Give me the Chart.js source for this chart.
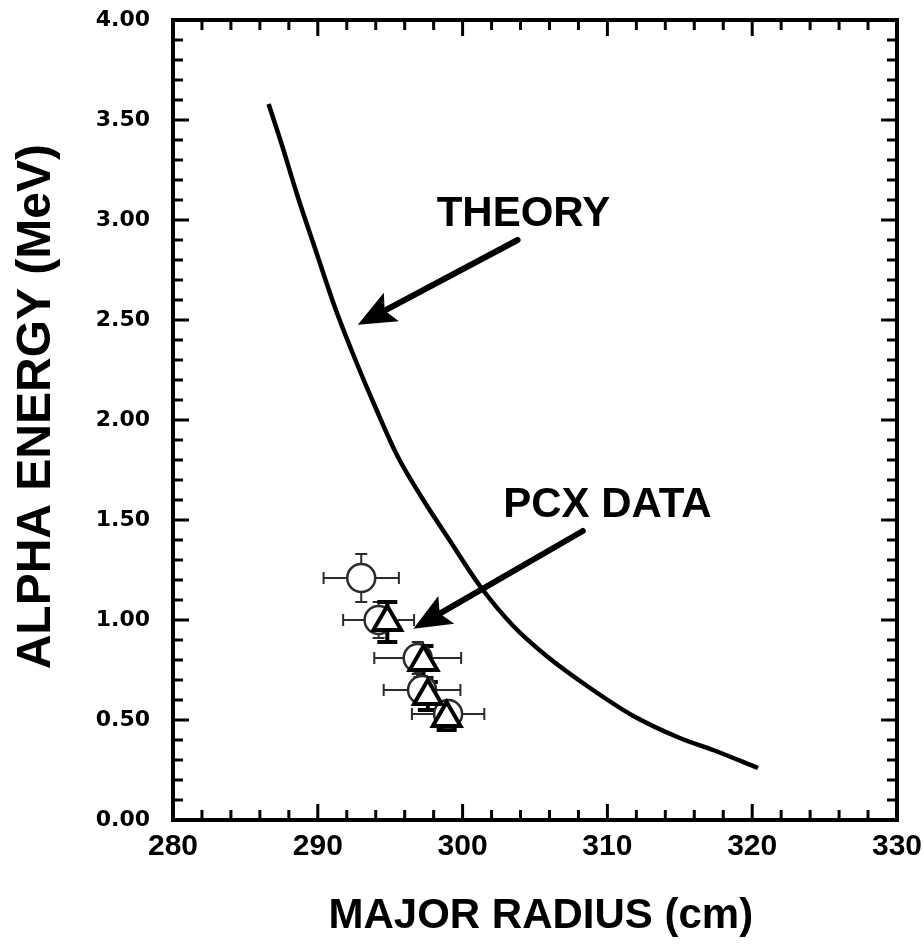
<!DOCTYPE html>
<html>
<head>
<meta charset="utf-8">
<script src="https://cdn.jsdelivr.net/npm/chart.js@4.4.1/dist/chart.umd.min.js"></script>
<style>
  html, body { margin: 0; padding: 0; background: #fff; }
</style>
</head>
<body>
<canvas id="chart" width="924" height="952"></canvas>
<script>
// Curva teórica (radio mayor, energía alfa)
const theoryX = [286.6, 287.5, 288.6, 289.8, 291.2, 292.6, 294.0, 295.5, 297.2, 299.0, 301.2, 303.5, 305.8, 308.6, 311.8, 315.0, 317.3, 320.4];
const theoryY = [3.58, 3.38, 3.12, 2.86, 2.56, 2.30, 2.06, 1.82, 1.61, 1.41, 1.17, 0.97, 0.82, 0.67, 0.52, 0.41, 0.35, 0.26];

// Datos PCX - círculos
const circleX = [293.0, 294.2, 296.9, 297.2, 299.0];
const circleY = [1.21, 1.00, 0.81, 0.65, 0.53];
const circleXErr = [2.6, 2.45, 3.0, 2.65, 2.5];
const circleYErr = [0.12, 0.09, 0.08, 0.07, 0.06];

// Datos PCX - triángulos
const triX = [294.8, 297.3, 297.6, 298.9];
const triY = [0.99, 0.79, 0.62, 0.51];
const triYErr = [0.10, 0.08, 0.07, 0.06];

// Ticks
const xTicks = [280, 290, 300, 310, 320, 330];
const yTicks = [0, 0.5, 1, 1.5, 2, 2.5, 3, 3.5, 4];
const xMinorStep = 2;
const yMinorStep = 0.1;

// Anotaciones (en unidades de datos)
const theoryLabel = { text: 'THEORY', x: 304.2, y: 3.03 };
const pcxLabel = { text: 'PCX DATA', x: 310.0, y: 1.574 };
const theoryArrow = { from: [303.8, 2.90], to: [292.76, 2.476] };
const pcxArrow = { from: [308.3, 1.445], to: [296.6, 0.956] };

const toPoints = (xs, ys) => xs.map((x, i) => ({ x: x, y: ys[i] }));

function drawArrow(ctx, x1, y1, x2, y2) {
    const ang = Math.atan2(y2 - y1, x2 - x1);
    const headLen = 38, headHalf = 16;
    const bx = x2 - headLen * Math.cos(ang), by = y2 - headLen * Math.sin(ang);
    const nx = x2 - headLen * 0.8 * Math.cos(ang), ny = y2 - headLen * 0.8 * Math.sin(ang);
    ctx.save();
    ctx.strokeStyle = '#000';
    ctx.fillStyle = '#000';
    ctx.lineWidth = 6;
    ctx.lineCap = 'round';
    ctx.beginPath();
    ctx.moveTo(x1, y1);
    ctx.lineTo(nx, ny);
    ctx.stroke();
    ctx.beginPath();
    ctx.moveTo(x2, y2);
    ctx.lineTo(bx + headHalf * Math.sin(ang), by - headHalf * Math.cos(ang));
    ctx.lineTo(nx, ny);
    ctx.lineTo(bx - headHalf * Math.sin(ang), by + headHalf * Math.cos(ang));
    ctx.closePath();
    ctx.fill();
    ctx.restore();
}

// Barras de error
const errorBars = {
    id: 'errorBars',
    beforeDatasetsDraw(chart) {
        const ctx = chart.ctx;
        const xs = chart.scales.x, ys = chart.scales.y;
        ctx.save();
        ctx.strokeStyle = '#2b2b2b';
        ctx.lineWidth = 2;
        circleX.forEach((x, i) => {
            const px = xs.getPixelForValue(x), py = ys.getPixelForValue(circleY[i]);
            const xl = xs.getPixelForValue(x - circleXErr[i]);
            const xr = xs.getPixelForValue(x + circleXErr[i]);
            const yt = ys.getPixelForValue(circleY[i] + circleYErr[i]);
            const yb = ys.getPixelForValue(circleY[i] - circleYErr[i]);
            ctx.beginPath();
            ctx.moveTo(xl, py); ctx.lineTo(xr, py);
            ctx.moveTo(xl, py - 6); ctx.lineTo(xl, py + 6);
            ctx.moveTo(xr, py - 6); ctx.lineTo(xr, py + 6);
            ctx.moveTo(px, yt); ctx.lineTo(px, yb);
            ctx.moveTo(px - 6, yt); ctx.lineTo(px + 6, yt);
            ctx.moveTo(px - 6, yb); ctx.lineTo(px + 6, yb);
            ctx.stroke();
        });
        ctx.strokeStyle = '#000';
        ctx.lineWidth = 4;
        triX.forEach((x, i) => {
            const px = xs.getPixelForValue(x);
            const yt = ys.getPixelForValue(triY[i] + triYErr[i]);
            const yb = ys.getPixelForValue(triY[i] - triYErr[i]);
            ctx.beginPath();
            ctx.moveTo(px, yt); ctx.lineTo(px, yb);
            ctx.moveTo(px - 10, yt); ctx.lineTo(px + 10, yt);
            ctx.moveTo(px - 10, yb); ctx.lineTo(px + 10, yb);
            ctx.stroke();
        });
        ctx.restore();
    }
};

// Marco, ticks hacia adentro y anotaciones
const frameAndNotes = {
    id: 'frameAndNotes',
    afterDraw(chart) {
        const ctx = chart.ctx;
        const a = chart.chartArea;
        const xs = chart.scales.x, ys = chart.scales.y;
        ctx.save();
        ctx.strokeStyle = '#000';
        ctx.lineWidth = 4;
        ctx.strokeRect(a.left, a.top, a.right - a.left, a.bottom - a.top);

        ctx.lineWidth = 3;
        ctx.beginPath();
        for (let v = xs.min; v <= xs.max + 1e-6; v += xMinorStep) {
            const px = xs.getPixelForValue(v);
            const len = xTicks.includes(Math.round(v)) ? 16 : 10;
            ctx.moveTo(px, a.bottom); ctx.lineTo(px, a.bottom - len);
            ctx.moveTo(px, a.top); ctx.lineTo(px, a.top + len);
        }
        for (let k = 0; k <= Math.round((ys.max - ys.min) / yMinorStep); k++) {
            const v = ys.min + k * yMinorStep;
            const py = ys.getPixelForValue(v);
            const len = (k % 5 === 0) ? 16 : 10;
            ctx.moveTo(a.left, py); ctx.lineTo(a.left + len, py);
            ctx.moveTo(a.right, py); ctx.lineTo(a.right - len, py);
        }
        ctx.stroke();

        ctx.fillStyle = '#000';
        ctx.font = 'bold 42px "Liberation Sans", Arial, sans-serif';
        ctx.textAlign = 'center';
        ctx.textBaseline = 'middle';
        [theoryLabel, pcxLabel].forEach(l => {
            ctx.fillText(l.text, xs.getPixelForValue(l.x), ys.getPixelForValue(l.y));
        });
        ctx.restore();

        [theoryArrow, pcxArrow].forEach(ar => {
            drawArrow(ctx,
                xs.getPixelForValue(ar.from[0]), ys.getPixelForValue(ar.from[1]),
                xs.getPixelForValue(ar.to[0]), ys.getPixelForValue(ar.to[1]));
        });
    }
};

const ctx = document.getElementById('chart').getContext('2d');
new Chart(ctx, {
    type: 'scatter',
    data: {
        datasets: [{
            label: 'PCX triángulos',
            data: toPoints(triX, triY),
            pointStyle: 'triangle',
            pointRadius: 16,
            borderColor: '#000',
            borderWidth: 4,
            backgroundColor: '#fff',
            order: 1
        }, {
            label: 'PCX círculos',
            data: toPoints(circleX, circleY),
            pointStyle: 'circle',
            pointRadius: 14,
            borderColor: '#2b2b2b',
            borderWidth: 2.5,
            backgroundColor: '#fff',
            order: 2
        }, {
            label: 'Theory',
            data: toPoints(theoryX, theoryY),
            showLine: true,
            pointRadius: 0,
            borderColor: '#000',
            borderWidth: 4.5,
            cubicInterpolationMode: 'monotone',
            order: 3
        }]
    },
    options: {
        responsive: false,
        animation: false,
        devicePixelRatio: 1,
        layout: { padding: { top: 17, right: 27, left: 0, bottom: 0 } },
        plugins: {
            legend: { display: false },
            tooltip: { enabled: false }
        },
        scales: {
            x: {
                type: 'linear',
                min: 280,
                max: 330,
                afterBuildTicks: s => { s.ticks = xTicks.map(v => ({ value: v })); },
                afterFit: s => { s.height = 132; s.paddingLeft = 0; s.paddingRight = 0; },
                grid: { display: false, drawTicks: false },
                border: { display: false },
                ticks: {
                    color: '#000',
                    padding: 9,
                    maxRotation: 0,
                    font: { family: '"Liberation Sans", Arial, sans-serif', size: 30, weight: 'bold' }
                },
                title: {
                    display: true,
                    text: ' MAJOR RADIUS (cm)',
                    color: '#000',
                    padding: { top: 0, bottom: 10 },
                    font: { family: '"Liberation Sans", Arial, sans-serif', size: 42, weight: 'bold' }
                }
            },
            y: {
                type: 'linear',
                min: 0,
                max: 4,
                afterBuildTicks: s => { s.ticks = yTicks.map(v => ({ value: v })); },
                afterFit: s => { s.width = 173; s.paddingTop = 0; s.paddingBottom = 0; },
                grid: { display: false, drawTicks: false },
                border: { display: false },
                ticks: {
                    color: '#000',
                    padding: 23,
                    callback: v => Number(v).toFixed(2),
                    font: { family: '"DejaVu Sans", sans-serif', size: 22, weight: 'bold' }
                },
                title: {
                    display: true,
                    text: '  ALPHA ENERGY (MeV)',
                    color: '#000',
                    padding: { top: 8, bottom: 0 },
                    font: { family: '"Liberation Sans", Arial, sans-serif', size: 48, weight: 'bold' }
                }
            }
        }
    },
    plugins: [errorBars, frameAndNotes]
});
</script>
</body>
</html>
